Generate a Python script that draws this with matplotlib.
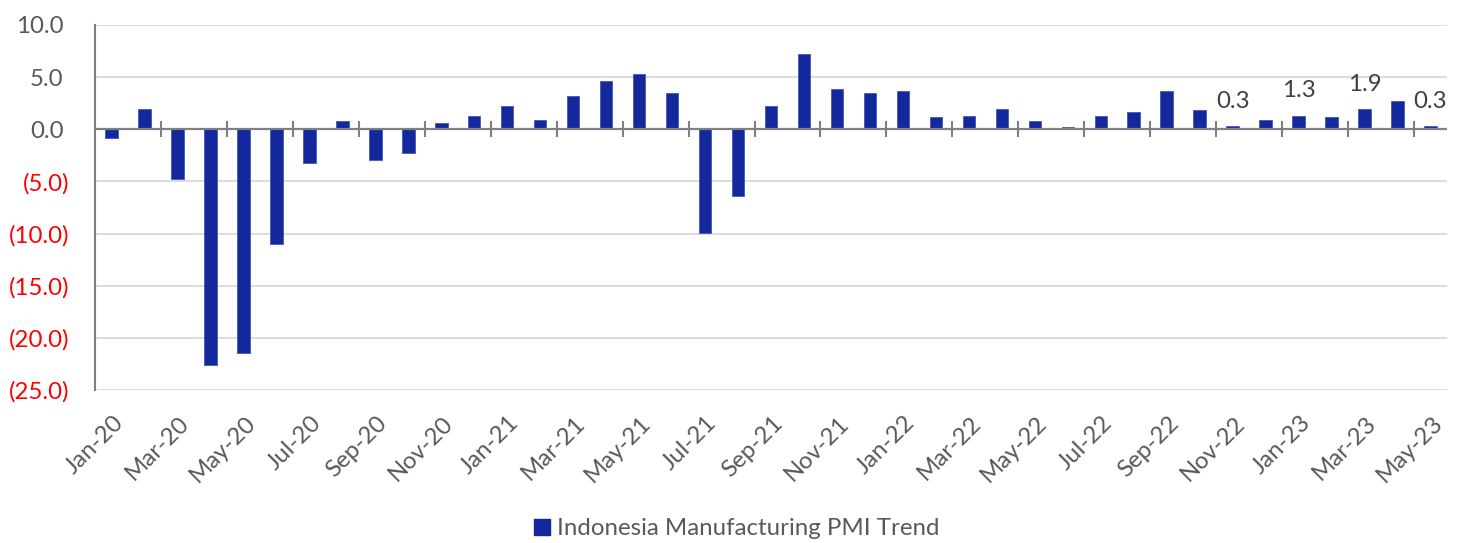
import matplotlib as mpl
mpl.use('Agg')
import matplotlib.pyplot as plt
from matplotlib.patches import Patch
from matplotlib.transforms import ScaledTranslation

plt.rcParams['font.family'] = ['Lato', 'DejaVu Sans']

# monthly change of Indonesia manufacturing PMI
months = ["Jan-20", "Feb-20", "Mar-20", "Apr-20", "May-20", "Jun-20", "Jul-20", "Aug-20",
          "Sep-20", "Oct-20", "Nov-20", "Dec-20", "Jan-21", "Feb-21", "Mar-21", "Apr-21",
          "May-21", "Jun-21", "Jul-21", "Aug-21", "Sep-21", "Oct-21", "Nov-21", "Dec-21",
          "Jan-22", "Feb-22", "Mar-22", "Apr-22", "May-22", "Jun-22", "Jul-22", "Aug-22",
          "Sep-22", "Oct-22", "Nov-22", "Dec-22", "Jan-23", "Feb-23", "Mar-23", "Apr-23",
          "May-23"]
pmi_change = [-0.8, 1.9, -4.8, -22.6, -21.5, -11.0, -3.2, 0.8,
              -2.9, -2.3, 0.6, 1.3, 2.2, 0.9, 3.2, 4.6,
              5.3, 3.5, -9.9, -6.4, 2.2, 7.2, 3.9, 3.5,
              3.7, 1.2, 1.3, 1.9, 0.8, 0.2, 1.3, 1.7,
              3.7, 1.8, 0.3, 0.9, 1.3, 1.2, 1.9, 2.7,
              0.3]
labelled = ["Nov-22", "Jan-23", "Mar-23", "May-23"]
yticks = [10, 5, 0, -5, -10, -15, -20, -25]

BAR = '#14289e'
GREY_TXT = '#595959'
AXIS = '#808080'
FS = 17.3

fig = plt.figure(figsize=(14.59, 5.43), dpi=100)
ax = fig.add_axes([0.0651, 0.2818, 0.9267, 0.6722])

x = list(range(len(months)))
ax.bar(x, pmi_change, width=0.38, color=BAR, edgecolor='#4455bb', linewidth=0.6, zorder=2)

ax.set_xlim(-0.5, len(months) - 0.5)
ax.set_ylim(-25, 10)

# y axis: grey positives, red bracketed negatives
def fmt(v):
    return "{:.1f}".format(v) if v >= 0 else "({:.1f})".format(-v)

ax.set_yticks(yticks, labels=[fmt(v) for v in yticks])
ax.tick_params(axis='y', length=0, pad=18.7, labelsize=FS)
for v, lab in zip(yticks, ax.get_yticklabels()):
    if v < 0:
        lab.set_color('red')
    else:
        lab.set_color(GREY_TXT)
        lab.set_transform(lab.get_transform() + ScaledTranslation(-5.7 / 100, 0, fig.dpi_scale_trans))
ax.yaxis.grid(True, color='#d9d9d9', linewidth=1.3, zorder=0)
ax.set_axisbelow(True)

# x labels every other month, rotated
ax.set_xticks(x[::2], labels=months[::2])
ax.tick_params(axis='x', length=0, pad=16, labelsize=FS, labelcolor=GREY_TXT)
for lab in ax.get_xticklabels():
    lab.set_rotation(45)
    lab.set_ha('right')
    lab.set_va('top')
    lab.set_rotation_mode('anchor')
    lab.set_transform(lab.get_transform() + ScaledTranslation(1 / 100, 0, fig.dpi_scale_trans))

for s in ['top', 'right', 'bottom']:
    ax.spines[s].set_visible(False)
ax.spines['left'].set_color(AXIS)
ax.spines['left'].set_linewidth(1.5)

# zero line with tick marks between every second month
ax.axhline(0, color=AXIS, linewidth=1.6, zorder=3)
boundaries = [i + 1.5 for i in x[::2][:-1]]
ax.vlines(boundaries, -0.77, 0.77, color=AXIS, linewidth=1.5, zorder=3)

# data labels on the last few months
for lbl in labelled:
    i = months.index(lbl)
    ax.annotate("{:.1f}".format(pmi_change[i]), xy=(i, pmi_change[i]), xytext=(0, 13.3),
                textcoords='offset points', ha='center', va='baseline',
                fontsize=FS, color='#404040')

fig.legend(handles=[Patch(facecolor=BAR, edgecolor=BAR)],
           labels=["Indonesia Manufacturing PMI Trend"],
           loc='center', bbox_to_anchor=(0.505, 0.026), frameon=False,
           handlelength=0.67, handleheight=0.67, handletextpad=0.29,
           fontsize=FS, labelcolor=GREY_TXT)

plt.savefig("out.png")
